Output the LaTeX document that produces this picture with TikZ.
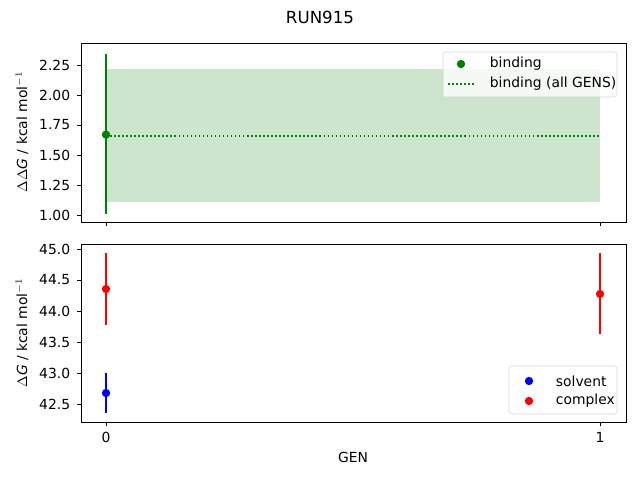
\documentclass[tikz,border=0pt]{standalone}
\usepackage{fontspec}
\setmainfont{DejaVu Sans}
\begin{document}
\begin{tikzpicture}[x=0.72pt,y=-0.72pt,
  ax/.style={line width=0.6pt},
  tk/.style={line width=0.6pt},
  lab/.style={font=\fontsize{10}{12}\selectfont},
  dotc/.style={circle,inner sep=0pt,minimum size=6pt},
  dotl/.style={green!50!black,line width=1.1pt,dash pattern=on 1.1pt off 1.8pt}]
\useasboundingbox (0,0) rectangle (640,480);
\fill[white] (0,0) rectangle (640,480);
\node[font=\fontsize{12}{14}\selectfont] (title) at (320,17) {RUN915};
% top axes
\fill[green!50!black,opacity=0.2] (106,69) rectangle (600,202);
\draw[dotl] (106,136) -- (600,136);
\draw[green!50!black,line width=1.1pt] (106,214) -- (106,54);
\node[dotc,fill=green!50!black] (p1) at (106,134.6) {};
\draw[ax] (81,43) rectangle (626,222);
\foreach \v/\t in {1/1.00,1.25/1.25,1.5/1.50,1.75/1.75,2/2.00,2.25/2.25}{
  \draw[tk] (81,{215-(\v-1)*120}) -- ++(-4,0);
  \node[lab,anchor=east] at (75,{215-(\v-1)*120}) {\t};}
\draw[tk] (106,222) -- ++(0,4); \draw[tk] (600,222) -- ++(0,4);
\node[lab,rotate=90] (yl1) at (22,132) {$\Delta\Delta \mathit{G}$ / kcal mol$^{-1}$};
\draw[black!20,fill=white,opacity=0.8,rounded corners=2pt] (443,52) rectangle (617,97);
\node[dotc,fill=green!50!black] (l1) at (461,64) {};
\node[lab,anchor=west] at (485,64) {binding};
\draw[dotl] (448,84) -- (476,84);
\node[lab,anchor=west] at (485,84) {binding (all GENS)};
% bottom axes
\draw[blue,line width=1.1pt] (106,413) -- (106,373);
\node[dotc,fill=blue] (s0) at (106,393) {};
\draw[red,line width=1.1pt] (106,325) -- (106,253);
\node[dotc,fill=red] (c0) at (106,289) {};
\draw[red,line width=1.1pt] (600,334) -- (600,253);
\node[dotc,fill=red] (c1) at (600,294) {};
\draw[ax] (81,244) rectangle (626,422);
\foreach \v/\t in {42.5/42.5,43/43.0,43.5/43.5,44/44.0,44.5/44.5,45/45.0}{
  \draw[tk] (81,{404-(\v-42.5)*62}) -- ++(-4,0);
  \node[lab,anchor=east] at (75,{404-(\v-42.5)*62}) {\t};}
\draw[tk] (106,422) -- ++(0,4); \draw[tk] (600,422) -- ++(0,4);
\node[lab] at (106,437) {0}; \node[lab] at (600,437) {1};
\node[lab] (xl) at (353,457) {GEN};
\node[lab,rotate=90] (yl2) at (22,333) {$\Delta \mathit{G}$ / kcal mol$^{-1}$};
\draw[black!20,fill=white,opacity=0.8,rounded corners=2pt] (509,366) rectangle (617,414);
\node[dotc,fill=blue] (l2) at (529,381) {};
\node[lab,anchor=west] at (551,381) {solvent};
\node[dotc,fill=red] (l3) at (529,401) {};
\node[lab,anchor=west] at (551,401) {complex};
\end{tikzpicture}
\end{document}
